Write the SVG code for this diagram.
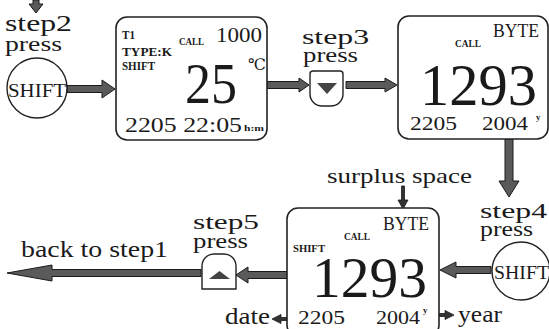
<svg xmlns="http://www.w3.org/2000/svg" width="549" height="329" viewBox="0 0 549 329" font-family="'Liberation Serif', 'DejaVu Serif', serif">
<style>
text{font-family:'Liberation Serif','DejaVu Serif',serif;fill:#1a1a1a}
.b{font-weight:bold}
.box{fill:#fff;stroke:#222;stroke-width:1.6}
.arr{fill:#5a5a5a;stroke:#1a1a1a;stroke-width:1}
.thin{fill:#333;stroke:#1a1a1a;stroke-width:0.8}
.btn{fill:#fff;stroke:#222;stroke-width:1.4}
.tri{fill:#444}
</style>
<rect width="549" height="329" fill="#fff"/>
<g id="connectors">
<polygon class="arr" points="33,0 39,0 39,4 43,4 36,13 29,4 33,4"/>
<polygon class="arr" points="67,85.5 102,85.5 102,80 115,89 102,98 102,92.5 67,92.5"/>
<polygon class="arr" points="267,81.5 299,81.5 299,78 309,85 299,92 299,88.5 267,88.5"/>
<polygon class="arr" points="346,81.5 385,81.5 385,78 397,85 385,92 385,88.5 346,88.5"/>
<polygon class="arr" points="505,139 513,139 513,181 519,181 509,197 499,181 505,181"/>
<polygon class="arr" points="491,266.5 456,266.5 456,262 440,270 456,278 456,273.5 491,273.5"/>
<polygon class="arr" points="287,271.5 248,271.5 248,267 236,275 248,283 248,278.5 287,278.5"/>
<polygon class="arr" points="201,269.5 52,269.5 52,265 7,273 52,281 52,276.5 201,276.5"/>
<polygon class="thin" points="401.5,186 404.5,186 404.5,200 408,200 403,209 398,200 401.5,200"/>
<polygon class="thin" points="297,317.5 281,317.5 281,314.5 272,319 281,323.5 281,320.5 297,320.5"/>
<polygon class="thin" points="426,313.5 445,313.5 445,310.5 454,315 445,319.5 445,316.5 426,316.5"/>
</g>
<g id="step2">
<text x="5" y="31" font-size="23" textLength="67" lengthAdjust="spacingAndGlyphs">step2</text>
<text x="5" y="51" font-size="22" textLength="57" lengthAdjust="spacingAndGlyphs">press</text>
</g>
<g id="shift1">
<circle cx="37" cy="88" r="30" fill="#fff" stroke="#222" stroke-width="1.4"/>
<text x="8" y="97" font-size="18" textLength="58" lengthAdjust="spacingAndGlyphs">SHIFT</text>
</g>
<g id="display1">
<rect class="box" x="116" y="17" width="151" height="123" rx="11"/>
<text class="b" x="122" y="39" font-size="12" textLength="13" lengthAdjust="spacingAndGlyphs">T1</text>
<text class="b" x="122" y="56" font-size="13" textLength="50" lengthAdjust="spacingAndGlyphs">TYPE:K</text>
<text class="b" x="122" y="70" font-size="12" textLength="33" lengthAdjust="spacingAndGlyphs">SHIFT</text>
<text class="b" x="179" y="45" font-size="10" textLength="25" lengthAdjust="spacingAndGlyphs">CALL</text>
<text x="216" y="42" font-size="22" textLength="46" lengthAdjust="spacingAndGlyphs">1000</text>
<text x="248" y="70" font-size="16">℃</text>
<text x="185" y="103" font-size="58" textLength="52" lengthAdjust="spacingAndGlyphs">25</text>
<text x="125" y="132" font-size="20" textLength="117" lengthAdjust="spacingAndGlyphs">2205 22:05</text>
<text class="b" x="244" y="131" font-size="8" textLength="20" lengthAdjust="spacingAndGlyphs">h:m</text>
</g>
<g id="step3">
<text x="302" y="44" font-size="21" textLength="67" lengthAdjust="spacingAndGlyphs">step3</text>
<text x="303" y="62" font-size="20" textLength="55" lengthAdjust="spacingAndGlyphs">press</text>
<path class="btn" d="M310,74 Q310,71 313,71 L340,71 Q343,71 343,74 L343,94 A12,12 0 0 1 331,106 L322,106 A12,12 0 0 1 310,94 Z"/>
<polygon class="tri" points="317,83 337,83 327,94"/>
</g>
<g id="display2">
<rect class="box" x="398" y="16" width="150" height="123" rx="11"/>
<text x="493" y="37" font-size="18" textLength="46" lengthAdjust="spacingAndGlyphs">BYTE</text>
<text class="b" x="455" y="47" font-size="10" textLength="26" lengthAdjust="spacingAndGlyphs">CALL</text>
<text x="420" y="105" font-size="60" textLength="117" lengthAdjust="spacingAndGlyphs">1293</text>
<text x="410" y="130" font-size="19" textLength="47" lengthAdjust="spacingAndGlyphs">2205</text>
<text x="482" y="130" font-size="19" textLength="46" lengthAdjust="spacingAndGlyphs">2004</text>
<text class="b" x="536" y="120" font-size="9">y</text>
</g>
<g id="surplus">
<text x="327" y="183" font-size="21" textLength="145" lengthAdjust="spacingAndGlyphs">surplus space</text>
</g>
<g id="step4">
<text x="480" y="218" font-size="21" textLength="67" lengthAdjust="spacingAndGlyphs">step4</text>
<text x="480" y="236" font-size="20" textLength="53" lengthAdjust="spacingAndGlyphs">press</text>
</g>
<g id="shift2">
<circle cx="521" cy="271" r="29" fill="#fff" stroke="#222" stroke-width="1.4"/>
<text x="494" y="279" font-size="18" textLength="55" lengthAdjust="spacingAndGlyphs">SHIFT</text>
</g>
<g id="display3">
<rect class="box" x="287" y="208" width="152" height="128" rx="11"/>
<text x="383" y="230" font-size="18" textLength="46" lengthAdjust="spacingAndGlyphs">BYTE</text>
<text class="b" x="344" y="240" font-size="10" textLength="26" lengthAdjust="spacingAndGlyphs">CALL</text>
<text class="b" x="293" y="252" font-size="10" textLength="32" lengthAdjust="spacingAndGlyphs">SHIFT</text>
<text x="312" y="297" font-size="57" textLength="115" lengthAdjust="spacingAndGlyphs">1293</text>
<text x="298" y="324" font-size="18" textLength="47" lengthAdjust="spacingAndGlyphs">2205</text>
<text x="376" y="324" font-size="18" textLength="44" lengthAdjust="spacingAndGlyphs">2004</text>
<text class="b" x="423" y="313" font-size="9">y</text>
</g>
<g id="date">
<text x="225" y="324" font-size="23" textLength="45" lengthAdjust="spacingAndGlyphs">date</text>
</g>
<g id="year">
<text x="458" y="322" font-size="23" textLength="44" lengthAdjust="spacingAndGlyphs">year</text>
</g>
<g id="step5">
<text x="193" y="229" font-size="21" textLength="66" lengthAdjust="spacingAndGlyphs">step5</text>
<text x="193" y="248" font-size="20" textLength="55" lengthAdjust="spacingAndGlyphs">press</text>
<path class="btn" d="M202,289 L236,289 L236,266 A12,12 0 0 0 224,254 L214,254 A12,12 0 0 0 202,266 Z"/>
<polygon class="tri" points="209,279 230,279 219.5,271"/>
</g>
<g id="back">
<text x="21" y="257" font-size="24" textLength="147" lengthAdjust="spacingAndGlyphs">back to step1</text>
</g>
</svg>
